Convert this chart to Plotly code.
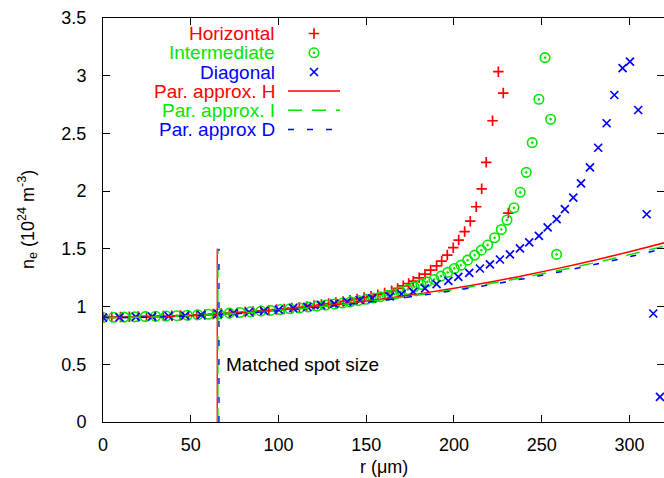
import plotly.graph_objects as go

# ---------------- data ----------------
# Horizontal (red +)
r_H = [0, 5, 10, 15, 20, 24.8, 29.6, 34.4, 39.2, 44, 48.7, 53.4, 58.1, 62.8, 67.4, 72, 76.6,
       81.1, 85.6, 90.1, 94.5, 98.9, 103.3, 107.6, 111.9, 116.1, 120.3, 124.5, 128.6, 132.7,
       136.8, 140.8, 144.8, 148.8, 152.7, 156.6, 160.5, 164.5, 167.9, 171.1, 174.2, 176.8,
       180.2, 183.5, 186.7, 190.1, 193, 196.2, 199.6, 202.7, 206.1, 209.3, 212.7, 215.8,
       218.4, 222, 225.3, 228.1, 231]
n_H = [0.91, 0.91, 0.91, 0.912, 0.913, 0.915, 0.917, 0.918, 0.92, 0.922, 0.925, 0.928, 0.931,
       0.935, 0.939, 0.943, 0.947, 0.952, 0.957, 0.962, 0.968, 0.974, 0.98, 0.987, 0.994,
       1.001, 1.009, 1.017, 1.026, 1.035, 1.045, 1.055, 1.066, 1.078, 1.09, 1.103, 1.117,
       1.136, 1.157, 1.18, 1.2, 1.22, 1.249, 1.281, 1.316, 1.353, 1.394, 1.446, 1.51, 1.576,
       1.65, 1.74, 1.865, 2.02, 2.25, 2.61, 3.035, 2.85, 1.81]

# Intermediate (green circles)
r_I = [0, 6, 12, 18, 24, 30, 36, 42, 48, 54, 60, 66, 72, 78, 84, 90, 95.5, 101, 106.5, 112,
       117, 122, 127, 132, 136.5, 141, 145.5, 150, 154, 158, 162, 165.8, 169.6, 173.6, 177.4,
       181.2, 184.8, 188.6, 192.6, 196.4, 200.2, 204, 207.8, 211.8, 215.6, 219.2, 223.2, 227,
       230.2, 234.2, 237.8, 241.2, 244.6, 248.4, 251.9, 255.1, 258.5]
n_I = [0.905, 0.907, 0.909, 0.911, 0.913, 0.916, 0.918, 0.921, 0.925, 0.929, 0.933, 0.938,
       0.943, 0.949, 0.955, 0.961, 0.967, 0.974, 0.981, 0.988, 0.996, 1.004, 1.013, 1.022,
       1.031, 1.041, 1.052, 1.063, 1.074, 1.085, 1.097, 1.108, 1.128, 1.148, 1.171, 1.192,
       1.214, 1.235, 1.264, 1.296, 1.33, 1.359, 1.402, 1.446, 1.489, 1.533, 1.596, 1.668,
       1.75, 1.856, 1.99, 2.163, 2.42, 2.796, 3.157, 2.623, 1.452]

# Diagonal (blue x)
r_D = [0, 9.4, 18.7, 28, 37.4, 46.8, 56, 65.5, 74.4, 83.2, 91.8, 100.2, 108.4, 116.4, 124.2,
       131.8, 139.2, 146.4, 153.4, 163.5, 170.1, 176.8, 183.5, 190.1, 196.8, 202.5, 208.7,
       214.8, 220.5, 226.2, 231.9, 237.6, 242.9, 248.4, 253.4, 258.5, 263.2, 268, 272.4,
       277.5, 282.2, 287, 291.4, 296.1, 300.3, 305, 309.8, 313.6, 317.4]
n_D = [0.905, 0.907, 0.91, 0.913, 0.917, 0.922, 0.928, 0.936, 0.944, 0.953, 0.963, 0.974,
       0.986, 0.998, 1.012, 1.026, 1.041, 1.056, 1.071, 1.088, 1.108, 1.128, 1.157, 1.194,
       1.223, 1.258, 1.292, 1.33, 1.365, 1.408, 1.452, 1.504, 1.556, 1.613, 1.686, 1.758,
       1.845, 1.943, 2.068, 2.206, 2.376, 2.588, 2.833, 3.065, 3.122, 2.703, 1.8, 0.94, 0.217]

# Parabolic approximations
r_par = [0, 20, 40, 60, 80, 100, 120, 140, 160, 180, 200, 220, 240, 260, 280, 300, 320]
n_parH = [0.905, 0.9075, 0.915, 0.928, 0.946, 0.968, 0.996, 1.029, 1.067, 1.110, 1.158, 1.211,
          1.270, 1.333, 1.401, 1.475, 1.553]
n_parI = [0.905, 0.907, 0.915, 0.927, 0.944, 0.966, 0.992, 1.024, 1.060, 1.101, 1.147, 1.198,
          1.253, 1.314, 1.379, 1.450, 1.524]
n_parD = [0.905, 0.907, 0.914, 0.926, 0.942, 0.964, 0.989, 1.020, 1.055, 1.095, 1.139, 1.188,
          1.242, 1.300, 1.364, 1.432, 1.504]

# Matched spot size markers (vertical lines)
spot_r = {"H": 65.1, "I": 65.5, "D": 66.1}
spot_n = [0, 1.5]

x_ticks = [0, 50, 100, 150, 200, 250, 300]
y_ticks = [0, 0.5, 1, 1.5, 2, 2.5, 3, 3.5]
y_ticktext = ["0", "0.5", "1", "1.5", "2", "2.5", "3", "3.5"]

legend_names = ["Horizontal", "Intermediate", "Diagonal",
                "Par. approx. H", "Par. approx. I", "Par. approx D"]

# ---------------- style ----------------
RED = "#ff0000"
GREEN = "#00e600"
BLUE = "#0000ff"
FONT = "Liberation Sans, Arial, Helvetica, sans-serif"
DASH_I = "14px,10px"
DASH_D = "6px,13px"

W, H = 664, 478
L, R, T, B = 103, 0, 18, 56

fig = go.Figure()

mk_H = dict(symbol="cross-thin", size=7.5, color=RED, line=dict(color=RED, width=1.7))
mk_I = dict(symbol="circle-open-dot", size=9.5, color=GREEN, line=dict(color=GREEN, width=1.6))
mk_D = dict(symbol="x-thin", size=8, color=BLUE, line=dict(color=BLUE, width=1.7))

fig.add_trace(go.Scatter(x=r_H, y=n_H, mode="markers", marker=mk_H, showlegend=False, cliponaxis=True))
fig.add_trace(go.Scatter(x=r_I, y=n_I, mode="markers", marker=mk_I, showlegend=False, cliponaxis=True))
fig.add_trace(go.Scatter(x=r_D, y=n_D, mode="markers", marker=mk_D, showlegend=False, cliponaxis=True))

fig.add_trace(go.Scatter(x=r_par, y=n_parH, mode="lines", line=dict(color=RED, width=1.5, shape="spline"), showlegend=False))
fig.add_trace(go.Scatter(x=r_par, y=n_parI, mode="lines", line=dict(color=GREEN, width=1.5, dash=DASH_I, shape="spline"), showlegend=False))
fig.add_trace(go.Scatter(x=r_par, y=n_parD, mode="lines", line=dict(color=BLUE, width=1.5, dash=DASH_D, shape="spline"), showlegend=False))

fig.add_trace(go.Scatter(x=[spot_r["H"]] * 2, y=spot_n, mode="lines", line=dict(color=RED, width=1.3), showlegend=False))
fig.add_trace(go.Scatter(x=[spot_r["I"]] * 2, y=spot_n, mode="lines", line=dict(color=GREEN, width=1.3, dash=DASH_I), showlegend=False))
fig.add_trace(go.Scatter(x=[spot_r["D"]] * 2, y=spot_n, mode="lines", line=dict(color=BLUE, width=1.3, dash=DASH_D), showlegend=False))

# ---------------- hand-made legend (text right-aligned, sample to its right) ----------------
leg_rows_px = [33.5, 52.8, 72.0, 91.0, 110.2, 129.4]
leg_text_right_px = 277
leg_colors = [RED, GREEN, BLUE, RED, GREEN, BLUE]

def px_to_paper(px, py):
    return (px - L) / (W - L - R), (H - B - py) / (H - T - B)

for name, py, col in zip(legend_names, leg_rows_px, leg_colors):
    xp, yp = px_to_paper(leg_text_right_px, py)
    fig.add_annotation(text=name, x=xp, y=yp, xref="paper", yref="paper",
                       xanchor="right", yanchor="middle", showarrow=False,
                       font=dict(family=FONT, size=19, color=col))

# legend samples drawn on an overlay axis expressed in pixel units
sym_x = 314
fig.add_trace(go.Scatter(x=[sym_x], y=[leg_rows_px[0]], xaxis="x2", yaxis="y2", mode="markers", marker=mk_H, showlegend=False))
fig.add_trace(go.Scatter(x=[sym_x], y=[leg_rows_px[1]], xaxis="x2", yaxis="y2", mode="markers", marker=mk_I, showlegend=False))
fig.add_trace(go.Scatter(x=[sym_x], y=[leg_rows_px[2]], xaxis="x2", yaxis="y2", mode="markers", marker=mk_D, showlegend=False))
fig.add_trace(go.Scatter(x=[288, 340], y=[leg_rows_px[3]] * 2, xaxis="x2", yaxis="y2", mode="lines", line=dict(color=RED, width=1.5), showlegend=False))
fig.add_trace(go.Scatter(x=[288, 340], y=[leg_rows_px[4]] * 2, xaxis="x2", yaxis="y2", mode="lines", line=dict(color=GREEN, width=1.5, dash=DASH_I), showlegend=False))
fig.add_trace(go.Scatter(x=[288, 340], y=[leg_rows_px[5]] * 2, xaxis="x2", yaxis="y2", mode="lines", line=dict(color=BLUE, width=1.5, dash=DASH_D), showlegend=False))

# "Matched spot size" label
fig.add_annotation(text="Matched spot size", x=69.0, y=0.5, xref="x", yref="y",
                   xanchor="left", yanchor="middle", showarrow=False,
                   font=dict(family=FONT, size=19, color="black"))

# axis titles as annotations
xp, yp = px_to_paper(383.5, 467)
fig.add_annotation(text="r (μm)", x=xp, y=yp, xref="paper", yref="paper",
                   xanchor="center", yanchor="middle", showarrow=False,
                   font=dict(family=FONT, size=18, color="black"))
xp, yp = px_to_paper(27, 220)
fig.add_annotation(text="n<sub>e</sub> (10<sup>24</sup> m<sup>-3</sup>)", x=xp, y=yp,
                   xref="paper", yref="paper", xanchor="center", yanchor="middle",
                   textangle=-90, showarrow=False,
                   font=dict(family=FONT, size=18, color="black"))

axis_common = dict(showgrid=False, zeroline=False, showline=True, linecolor="black",
                   linewidth=1, mirror="ticks", ticks="inside", ticklen=7, tickwidth=1,
                   tickcolor="black", tickfont=dict(family=FONT, size=18, color="black"))

fig.update_layout(
    width=W, height=H,
    margin=dict(l=L, r=R, t=T, b=B, pad=0),
    paper_bgcolor="white", plot_bgcolor="white",
    showlegend=False,
    xaxis=dict(range=[0, 319.7], tickvals=x_ticks, ticklabelstandoff=6, **axis_common),
    yaxis=dict(range=[0, 3.5], tickvals=y_ticks, ticktext=y_ticktext, ticklabelstandoff=12, **axis_common),
    xaxis2=dict(overlaying="x", range=[L, W - R], visible=False),
    yaxis2=dict(overlaying="y", range=[H - B, T], visible=False),
)

fig.write_html("out.html")
